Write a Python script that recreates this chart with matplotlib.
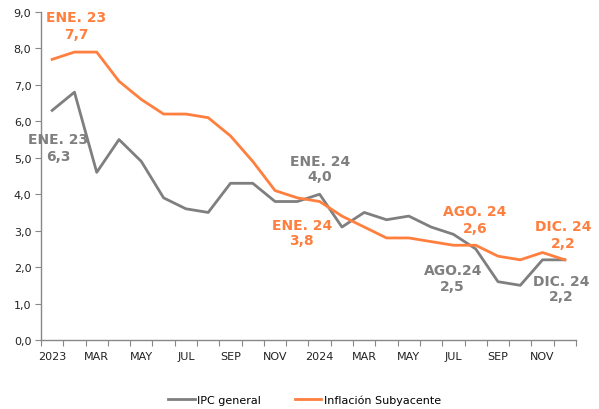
import matplotlib
matplotlib.use("Agg")
import matplotlib.pyplot as plt
import numpy as np

months = ["ENE23", "FEB23", "MAR23", "ABR23", "MAY23", "JUN23", "JUL23", "AGO23",
          "SEP23", "OCT23", "NOV23", "DIC23", "ENE24", "FEB24", "MAR24", "ABR24",
          "MAY24", "JUN24", "JUL24", "AGO24", "SEP24", "OCT24", "NOV24", "DIC24"]
ipc_general = [6.3, 6.8, 4.6, 5.5, 4.9, 3.9, 3.6, 3.5, 4.3, 4.3, 3.8, 3.8,
               4.0, 3.1, 3.5, 3.3, 3.4, 3.1, 2.9, 2.5, 1.6, 1.5, 2.2, 2.2]
subyacente = [7.7, 7.9, 7.9, 7.1, 6.6, 6.2, 6.2, 6.1, 5.6, 4.9, 4.1, 3.9,
              3.8, 3.4, 3.1, 2.8, 2.8, 2.7, 2.6, 2.6, 2.3, 2.2, 2.4, 2.2]
tick_labels = ["2023", "MAR", "MAY", "JUL", "SEP", "NOV",
               "2024", "MAR", "MAY", "JUL", "SEP", "NOV"]

GRAY = "#7f7f7f"
ORANGE = "#ff7f3f"

fig = plt.figure(figsize=(5.99, 4.10), dpi=100)
ax = fig.add_axes([41/599, 69/410, (576-41)/599, (341-13)/410])

x = np.arange(len(months))
ax.plot(x, ipc_general, color=GRAY, lw=2.0, label="IPC general", solid_joinstyle="round")
ax.plot(x, subyacente, color=ORANGE, lw=2.0, label="Inflación Subyacente", solid_joinstyle="round")

ax.set_xlim(-0.5, len(months) - 0.5)
ax.set_ylim(0, 9)
ax.set_yticks(np.arange(0, 10, 1))
ax.set_yticklabels([f"{v:.1f}".replace(".", ",") for v in np.arange(0, 10, 1)], fontsize=8, color="#222222")

ax.set_xticks(np.arange(-0.5, len(months) + 0.5, 1))
ax.set_xticklabels([])
ax.set_xticks(np.arange(0, len(months), 2), minor=True)
ax.set_xticklabels(tick_labels, minor=True, fontsize=8, color="#222222")
ax.tick_params(axis="x", which="major", length=4, color="#888888", direction="out")
ax.tick_params(axis="x", which="minor", length=0, pad=8)
ax.tick_params(axis="y", length=4, color="#888888", pad=3)

for s in ["top", "right"]:
    ax.spines[s].set_visible(False)
for s in ["left", "bottom"]:
    ax.spines[s].set_color("#888888")
    ax.spines[s].set_linewidth(1.0)

# (label, value, x-centre, y of first line, y of second line, colour)
annots = [
    ("ENE. 23", "7,7", 1.07, 8.86, 8.40, ORANGE),
    ("ENE. 23", "6,3", 0.26, 5.52, 5.05, GRAY),
    ("ENE. 24", "4,0", 12.0, 4.92, 4.50, GRAY),
    ("ENE. 24", "3,8", 11.2, 3.16, 2.75, ORANGE),
    ("AGO. 24", "2,6", 18.96, 3.54, 3.08, ORANGE),
    ("AGO.24", "2,5", 17.97, 1.92, 1.48, GRAY),
    ("DIC. 24", "2,2", 22.95, 3.13, 2.67, ORANGE),
    ("DIC. 24", "2,2", 22.82, 1.62, 1.21, GRAY),
]
for l1, l2, tx, y1, y2, c in annots:
    for txt, ty in ((l1, y1), (l2, y2)):
        ax.text(tx, ty, txt, color=c, fontsize=10, fontweight="bold",
                ha="center", va="center", clip_on=False)

leg = fig.legend(loc="center", bbox_to_anchor=(0.5 + 5/599, 1 - 401/410), ncol=2, frameon=False,
                 fontsize=8, handlelength=2.4, handletextpad=0.25, columnspacing=3.0)

fig.savefig("out.png", dpi=100)
